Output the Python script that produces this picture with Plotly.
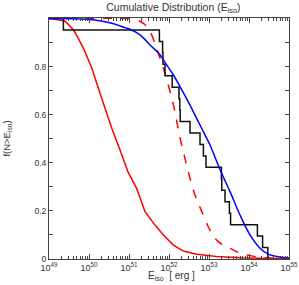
import plotly.graph_objects as go

# Empirical cumulative (step) - log10(E_iso) of the sample
obs_logE = [49.36, 51.76, 51.84, 51.85, 51.90, 52.08, 52.25, 52.27, 52.28, 52.525,
            52.775, 52.86, 52.925, 53.31, 53.32, 53.40, 53.51, 53.54, 54.21, 54.34, 54.47]

# Blue model curve
blue_logE = [49.0, 49.15, 50.15, 50.57, 50.9, 51.025, 51.275, 51.525, 51.775, 51.94, 52.11,
             52.275, 52.48, 52.69, 52.9, 53.025, 53.28, 53.525, 53.775, 54.025, 54.275,
             54.48, 54.775, 55.0]
blue_f = [1.0, 1.0, 0.994, 0.98, 0.962, 0.955, 0.932, 0.89, 0.849, 0.807, 0.765,
          0.717, 0.654, 0.585, 0.516, 0.474, 0.37, 0.28, 0.183, 0.1, 0.045,
          0.02, 0.008, 0.004]

# Red solid curve
red_logE = [49.0, 49.025, 49.4, 49.61, 49.73, 49.9, 50.07, 50.23, 50.4, 50.57, 50.675,
            50.82, 50.98, 51.19, 51.4, 51.65, 51.86, 52.11, 52.36, 52.69, 53.19,
            53.78, 54.5, 55.0]
red_f = [1.0, 1.0, 0.99, 0.953, 0.918, 0.862, 0.793, 0.717, 0.627, 0.544, 0.5,
         0.433, 0.36, 0.294, 0.197, 0.141, 0.1, 0.058, 0.033, 0.02, 0.01,
         0.005, 0.002, 0.001]

# Red dashed curve
dash_logE = [49.0, 50.82, 51.1, 51.36, 51.525, 51.69, 51.86, 51.98, 52.11, 52.275,
             52.36, 52.48, 52.65, 52.82, 53.025, 53.23, 53.525, 53.775, 54.025,
             54.4, 55.0]
dash_f = [1.0, 1.0, 0.998, 0.98, 0.946, 0.876, 0.793, 0.724, 0.641, 0.505,
          0.446, 0.363, 0.266, 0.197, 0.12, 0.072, 0.045, 0.024, 0.014,
          0.005, 0.001]

n = len(obs_logE)
step_x = [10.0 ** 49] + [10.0 ** v for v in obs_logE]
step_y = [1.0] + [1.0 - (i + 1) / n for i in range(n)]

fig = go.Figure()
fig.add_trace(go.Scatter(x=[10.0 ** v for v in red_logE], y=red_f, mode="lines",
                         line=dict(color="#ff0000", width=1.5)))
fig.add_trace(go.Scatter(x=[10.0 ** v for v in dash_logE], y=dash_f, mode="lines",
                         line=dict(color="#ff0000", width=1.5, dash="dash", shape="spline")))
fig.add_trace(go.Scatter(x=step_x, y=step_y, mode="lines",
                         line=dict(color="#111111", width=1.5, shape="hv")))
fig.add_trace(go.Scatter(x=[10.0 ** v for v in blue_logE], y=blue_f, mode="lines",
                         line=dict(color="#0000ff", width=1.5, shape="spline")))

font = "Liberation Sans, Arial, sans-serif"
fig.update_layout(
    width=299, height=285,
    margin=dict(l=49, r=10, t=18, b=26, autoexpand=False),
    paper_bgcolor="white", plot_bgcolor="white",
    showlegend=False,
    font=dict(family=font, size=9, color="#333333"),
    title=dict(text="Cumulative Distribution (E<sub>iso</sub>)", x=0.58, xanchor="center",
               y=0.988, yanchor="top", font=dict(size=10.5, color="#333333")),
    annotations=[dict(text="E<sub>iso</sub>  [ erg ]", xref="paper", yref="paper",
                      x=0.51, y=-0.036, xanchor="center", yanchor="top",
                      showarrow=False, font=dict(size=10, color="#333333"))],
)
fig.update_xaxes(
    type="log", range=[49, 55], showgrid=False, zeroline=False, automargin=False,
    showline=True, linecolor="#444444", linewidth=1, mirror="ticks",
    ticks="inside", ticklen=5, tickcolor="#444444",
    tickvals=[10.0 ** k for k in range(49, 56)],
    ticktext=["10<sup>%d</sup>" % k for k in range(49, 56)],
    minor=dict(ticks="inside", ticklen=3, tickcolor="#444444",
               tickvals=[m * 10.0 ** k for k in range(49, 55) for m in range(2, 10)]),
    tickfont=dict(size=9),
)
fig.update_yaxes(
    range=[0, 1.002], showgrid=False, zeroline=False, automargin=False,
    showline=True, linecolor="#444444", linewidth=1, mirror="ticks",
    ticks="inside", ticklen=4, tickcolor="#444444",
    tickvals=[0, 0.2, 0.4, 0.6, 0.8], ticktext=["0", "0.2", "0.4", "0.6", "0.8"],
    minor=dict(ticks="inside", ticklen=4, tickcolor="#444444", tickvals=[0.1, 0.3, 0.5, 0.7, 0.9]),
    title=dict(text="f(N>E<sub>iso</sub>)", font=dict(size=9.5), standoff=22),
    tickfont=dict(size=8.5),
)

fig.write_html("out.html", config={"displayModeBar": False},
               post_script="document.body.style.margin='0';document.body.style.padding='0';")
